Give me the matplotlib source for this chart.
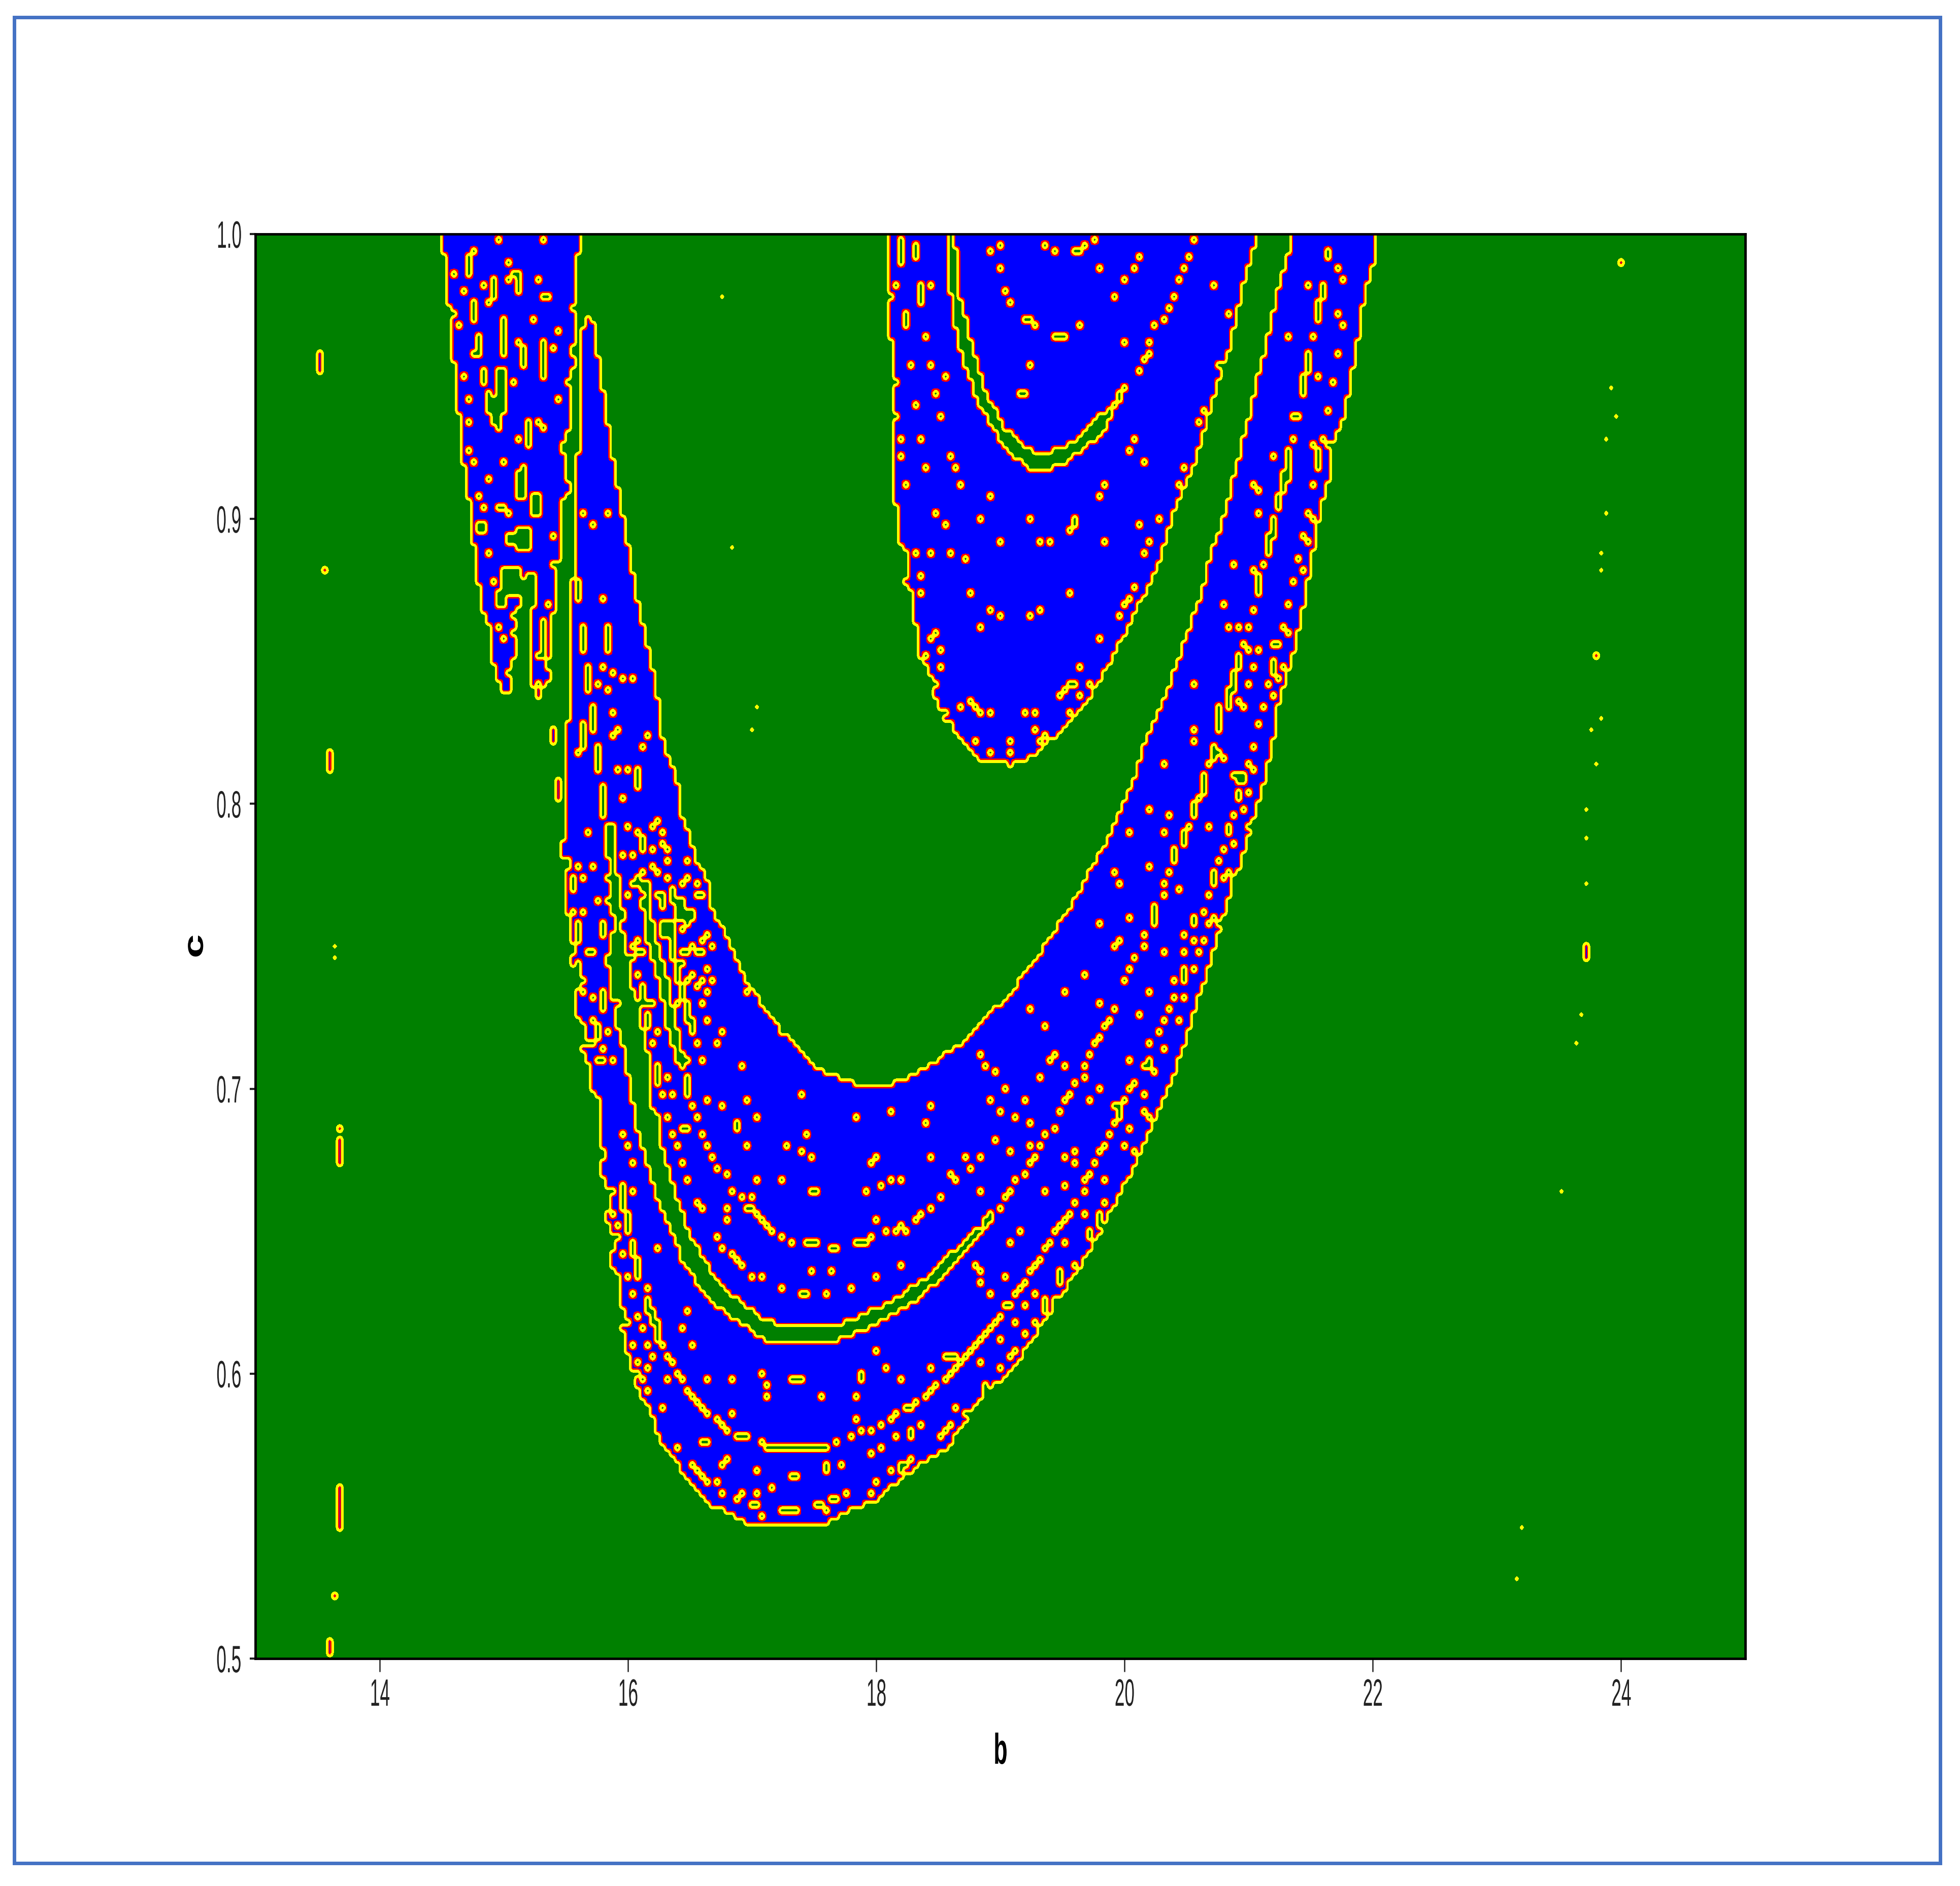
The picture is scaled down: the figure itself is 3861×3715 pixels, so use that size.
import numpy as np
import matplotlib
matplotlib.use("Agg")
import matplotlib.pyplot as plt
import matplotlib.patheffects as pe
from matplotlib.colors import ListedColormap, BoundaryNorm
from matplotlib.path import Path
from matplotlib.patches import Rectangle
from matplotlib.transforms import Affine2D

plt.rcParams['font.family'] = ['Liberation Sans', 'DejaVu Sans']

# parameter grid (b, c)
b_start, b_end, b_step = 13.0, 25.0, 0.04
c_start, c_end, c_step = 0.5, 1.0, 0.002

x_ticks = [14, 16, 18, 20, 22, 24]
y_ticks = [0.5, 0.6, 0.7, 0.8, 0.9, 1.0]

# blue regions, outlines as (b, c)
lobe_left = [(14.477, 1.002), (14.484, .9940), (14.524, .9924), (14.524, .9788), (14.565, .9726), (14.572, .9556),
             (14.606, .9539), (14.612, .9376), (14.646, .9353), (14.653, .9285), (14.639, .9229), (14.687, .9184),
             (14.694, .9105), (14.721, .9037), (14.727, .8924), (14.768, .8901), (14.775, .8794), (14.822, .8754),
             (14.802, .8709), (14.877, .8630), (14.883, .8517), (14.931, .8495), (14.938, .8438), (14.978, .8404),
             (15.032, .8410), (15.046, .8450), (14.998, .8478), (15.080, .8529), (15.087, .8596), (15.026, .8619),
             (15.093, .8636), (15.039, .8664), (15.107, .8709), (15.120, .8788), (15.175, .8822), (15.242, .8834),
             (15.242, .8704), (15.188, .8692), (15.208, .8641), (15.208, .8562), (15.202, .8450), (15.242, .8404),
             (15.249, .8376), (15.290, .8376), (15.297, .8415), (15.364, .8450), (15.324, .8495), (15.364, .8596),
             (15.371, .8664), (15.405, .8720), (15.405, .8845), (15.452, .8867), (15.425, .8901), (15.446, .9082),
             (15.507, .9105), (15.480, .9195), (15.480, .9229), (15.439, .9246), (15.480, .9319), (15.527, .9342),
             (15.520, .9466), (15.486, .9489), (15.554, .9551), (15.520, .9602), (15.568, .9624), (15.568, .9715),
             (15.520, .9743), (15.568, .9777), (15.568, .9929), (15.608, .9940), (15.602, 1.002)]

lobe_upper = [(18.044, 1.002), (18.044, .9634), (18.083, .9621), (18.083, .9296), (18.122, .927), (18.122, .9166),
              (18.109, .9075), (18.16, .9049), (18.16, .8932), (18.225, .8874), (18.2, .8789), (18.264, .8750),
              (18.238, .8698), (18.303, .8607), (18.316, .8530), (18.394, .8478), (18.433, .8387), (18.537, .8296),
              (18.666, .8231), (18.796, .8166), (19.055, .8153), (19.21, .8185), (19.418, .8257), (19.677, .8387),
              (19.807, .849), (19.937, .8595), (20.144, .8776), (20.248, .888), (20.352, .9036), (20.507, .9192),
              (20.61, .9348), (20.714, .9504), (20.818, .9647), (20.896, .9816), (21.025, 1.002)]

band_u = [(15.656, .9720), (15.608, .9669), (15.608, .9240), (15.561, .9235), (15.561, .8800), (15.52, .8788),
          (15.52, .8305), (15.487, .8293), (15.487, .7905), (15.442, .789), (15.442, .7834), (15.514, .7802),
          (15.487, .777), (15.487, .763), (15.533, .7613), (15.533, .7526), (15.56, .751), (15.524, .7486),
          (15.533, .7443), (15.596, .747), (15.614, .7415), (15.65, .7395), (15.569, .736), (15.56, .728),
          (15.641, .7249), (15.641, .72), (15.605, .7154), (15.669, .710), (15.691, .7015), (15.743, .6994),
          (15.743, .6854), (15.782, .6811), (15.769, .6725), (15.821, .6672), (15.821, .6629), (15.808, .6564),
          (15.873, .65), (15.834, .6403), (15.912, .636), (15.899, .6274), (15.963, .6232), (15.925, .6189),
          (15.976, .609), (16.041, .5985), (16.145, .59), (16.249, .579), (16.378, .5716), (16.443, .5663),
          (16.638, .5566), (16.793, .5544), (16.897, .5512), (17.026, .5491), (17.415, .5491), (17.584, .5512),
          (17.752, .5555), (17.96, .5587), (18.167, .5663), (18.349, .5722), (18.53, .577), (18.686, .5867),
          (18.847, .5975), (19.023, .6019), (19.156, .6107), (19.288, .6195), (19.508, .6342), (19.662, .6445),
          (19.905, .665), (20.081, .6797), (20.213, .6944), (20.323, .7047), (20.478, .7238), (20.599, .7414),
          (20.709, .7576), (20.819, .7737), (20.907, .784), (20.995, .7972), (21.072, .809), (21.155, .8257),
          (21.18, .8348), (21.285, .8516), (21.363, .8646), (21.415, .8776), (21.466, .8906), (21.518, .9036),
          (21.609, .918), (21.6, .9244), (21.72, .9374), (21.79, .955), (21.87, .977), (21.97, .995), (21.97, 1.002),
          (21.28, 1.002), (21.27, .9946), (21.18, .9816), (21.13, .9686), (21.05, .9556), (20.97, .94), (20.896, .927),
          (20.818, .914), (20.74, .901), (20.66, .8906), (20.585, .8776), (20.48, .8646), (20.377, .8504),
          (20.248, .8361), (20.118, .8231), (19.993, .806), (19.839, .7913), (19.729, .7825), (19.552, .7678),
          (19.398, .7576), (19.244, .7473), (19.035, .7355), (18.847, .7267), (18.671, .7186), (18.35, .709),
          (18.1, .704), (17.8, .704), (17.49, .709), (17.355, .7162), (17.21, .7217), (17.12, .728), (17.03, .733),
          (16.957, .7375), (16.848, .7462), (16.758, .7557), (16.667, .7628), (16.649, .7652), (16.649, .7707),
          (16.594, .7771), (16.54, .7802), (16.485, .7873), (16.449, .7937), (16.377, .7992), (16.395, .804),
          (16.358, .8103), (16.304, .8174), (16.25, .8253), (16.231, .8348), (16.177, .8466), (16.137, .8551),
          (16.096, .863), (16.055, .8715), (16.015, .8822), (15.974, .8913), (15.933, .902), (15.893, .9116),
          (15.852, .9235), (15.811, .9353), (15.771, .9466), (15.73, .9585), (15.69, .9715)]

# green channels inside the blue regions
arc_upper = [(18.524, 1.002), (18.536, .9881), (18.588, .9699), (18.666, .9556), (18.796, .94), (18.951, .9283),
             (19.159, .9192), (19.288, .9173), (19.47, .9205), (19.781, .931), (19.885, .94), (19.963, .9465),
             (20.0, .9504), (19.937, .9465), (19.859, .9413), (19.52, .927), (19.314, .9238), (19.185, .925),
             (18.977, .9335), (18.822, .9478), (18.692, .9686), (18.614, .9816), (18.594, 1.002)]

arc_main = [(15.94, .7569), (15.85, .7569), (15.841, .7494), (15.796, .747), (15.832, .7431), (15.841, .7336),
            (15.896, .732), (15.886, .724), (15.923, .7225), (15.94, .7154), (15.99, .7037), (16.041, .6886),
            (16.093, .6822), (16.132, .6747), (16.171, .6693), (16.249, .6597), (16.352, .65), (16.391, .6436),
            (16.508, .636), (16.612, .6296), (16.767, .6232), (16.923, .6189), (17.078, .6146), (17.234, .6130),
            (17.519, .6130), (17.675, .6146), (17.908, .6189), (18.115, .6242), (18.271, .6274), (18.401, .6328),
            (18.53, .6382), (18.66, .6446), (18.79, .65), (18.906, .6575), (18.712, .6511), (18.53, .6436),
            (18.349, .636), (18.167, .6307), (18.038, .6274), (17.83, .6226), (17.649, .6199), (17.467, .6189),
            (17.364, .6189), (17.208, .6199), (17.078, .6215), (16.975, .6253), (16.819, .6296), (16.689, .635),
            (16.56, .6446), (16.482, .651), (16.404, .6597), (16.313, .6725), (16.249, .6811), (16.21, .694),
            (16.158, .6961), (16.158, .7101), (16.122, .7162), (16.068, .7312), (15.995, .7391), (15.968, .751)]

arc_neck = [(15.841, .783), (15.877, .783), (15.877, .7771), (15.923, .7739), (15.896, .7707), (15.932, .766),
            (15.968, .7628), (15.923, .7609), (15.932, .7573), (15.877, .7577), (15.877, .762), (15.805, .7676),
            (15.841, .7715), (15.796, .7755), (15.841, .7779)]

arc_hook = [(15.995, .7739), (16.068, .7767), (16.168, .7723), (16.168, .7628), (16.204, .7549), (16.259, .747),
            (16.304, .7383), (16.34, .7288), (16.395, .7186), (16.449, .71), (16.377, .71), (16.304, .7201),
            (16.277, .7288), (16.231, .7375), (16.177, .7462), (16.122, .7549), (16.104, .7628), (16.077, .7668),
            (16.113, .77), (16.068, .7739), (16.032, .7727)]

hole_left = [(14.931, .9545), (14.998, .9545), (15.019, .9489), (15.012, .9387), (14.978, .9370), (14.971, .9308),
             (14.917, .9314), (14.877, .9370), (14.843, .9387), (14.843, .9460), (14.904, .9438), (14.924, .9477)]

# elongated holes as (b0, b1, c0, c1)
gap_boxes = [(14.70, 14.70, .9856, .9918), (15.10, 15.10, .9805, .9867), (14.905, 14.905, .9777, .9844),
             (14.745, 14.745, .9709, .9765), (14.98, 14.98, .9647, .9714), (14.98, 14.98, .9579, .963),
             (15.14, 15.14, .954, .96), (15.305, 15.305, .951, .963), (14.82, 14.82, .9477, .9534),
             (15.18, 15.18, .9274, .9347), (15.30, 15.34, .979, .979), (14.79, 14.79, .958, .964),
             (14.74, 14.79, .958, .958), (15.10, 15.12, .908, .916), (15.20, 15.24, .903, .909),
             (14.80, 14.84, .8965, .899), (15.10, 15.18, .8905, .8975), (15.04, 15.10, .893, .8955),
             (14.96, 15.0, .872, .876), (15.0, 15.08, .876, .884), (15.28, 15.30, .853, .8645),
             (15.58, 15.58, .874, .879), (15.62, 15.62, .8551, .8636), (15.825, 15.825, .8551, .8636),
             (15.66, 15.66, .8416, .8483), (15.70, 15.70, .83, .8353),
             (19.38, 19.46, .9655, .9655), (19.38, 19.41, .995, .995), (19.54, 19.58, .995, .995),
             (18.174, 18.174, .9907, .998), (18.298, 18.298, .9927, .997), (18.334, 18.334, .977, .9816),
             (18.215, 18.215, .9693, .9725), (21.58, 21.60, .9915, .9935), (21.53, 21.53, .978, .982),
             (21.492, 21.492, .9706, .9758), (21.409, 21.409, .9523, .9582), (21.37, 21.37, .9439, .9498),
             (21.316, 21.36, .9374, .9374), (21.248, 21.248, .9144, .9244), (21.492, 21.492, .918, .924),
             (21.212, 21.212, .9108, .9166), (21.173, 21.173, .9043, .9095), (21.129, 21.129, .8958, .9017),
             (21.093, 21.093, .889, .895), (21.01, 21.01, .8744, .8802), (20.849, 20.849, .8484, .8536),
             (21.129, 21.129, .8475, .852), (20.81, 20.81, .8412, .8471), (20.769, 20.769, .8361, .8419),
             (20.727, 20.727, .8296, .8354), (20.65, 20.65, .8175, .822), (20.572, 20.572, .8063, .812),
             (21.16, 21.20, .8572, .8572), (20.88, 20.92, .809, .811),
             (20.57, 20.57, .806, .812), (20.489, 20.489, .797, .802), (20.411, 20.411, .787, .792),
             (20.367, 20.367, .782, .786), (20.209, 20.209, .762, .766), (19.931, 19.931, .692, .696),
             (20.654, 20.654, .773, .777), (20.10, 20.14, .7095, .7095), (19.735, 19.735, .655, .659),
             (19.449, 19.449, .634, .638), (19.332, 19.332, .625, .629), (20.78, 20.80, .791, .793),
             (15.623, 15.623, .8233, .83), (15.696, 15.696, .8265, .834), (15.741, 15.741, .813, .8209),
             (16.063, 16.063, .8079, .8134), (15.781, 15.781, .7984, .8047), (16.101, 16.101, .785, .7897),
             (15.82, 15.86, .7845, .793), (15.542, 15.542, .772, .775), (16.34, 16.34, .768, .772),
             (16.264, 16.264, .765, .769), (16.38, 16.42, .7625, .767), (16.45, 16.51, .7625, .7635),
             (16.26, 16.35, .7565, .7595), (15.583, 15.583, .754, .758), (15.781, 15.781, .755, .759),
             (16.34, 16.34, .7478, .7541), (15.66, 15.70, .7494, .7494), (16.05, 16.1, .7494, .7494),
             (16.41, 16.47, .7494, .7494), (16.53, 16.59, .7494, .7494), (15.98, 16.0, .7474, .7474),
             (16.377, 16.377, .7407, .7454), (16.413, 16.413, .734, .738), (15.781, 15.781, .7308, .7356),
             (16.099, 16.099, .732, .7383), (16.14, 16.17, .7312, .7312), (16.458, 16.458, .727, .731),
             (16.141, 16.141, .7233, .7288), (15.741, 15.741, .72, .724), (16.498, 16.498, .7215, .726),
             (15.64, 15.68, .7178, .7178), (15.73, 15.77, .7117, .7117),
             (16.456, 16.456, .6994, .7069), (16.223, 16.223, .7051, .7101), (16.24, 16.26, .6997, .6997),
             (16.4, 16.44, .688, .688), (15.938, 15.938, .6602, .6677), (15.984, 15.984, .6521, .6575),
             (16.02, 16.02, .644, .649), (16.062, 16.062, .637, .642), (16.12, 16.14, .6333, .6333),
             (16.04, 16.06, .6232, .6232), (16.14, 16.14, .6248, .6296), (16.179, 16.179, .62, .625),
             (16.223, 16.223, .615, .62), (17.415, 17.467, .6481, .6481),
             (17.597, 17.65, .6468, .6468), (17.8, 17.87, .6481, .6481), (17.43, 17.49, .6663, .6663),
             (17.375, 17.42, .6314, .6314), (17.30, 17.37, .6015, .6015), (17.09, 17.585, .5762, .577),
             (16.832, 16.87, .5818, .5818), (18.22, 18.26, .5915, .5915), (17.28, 17.32, .5668, .5668),
             (16.98, 17.02, .5568, .5568), (17.2, 17.32, .5552, .5552), (17.5, 17.53, .5568, .5568),
             (17.62, 17.65, .5585, .5585), (18.17, 18.21, .5716, .5716), (18.54, 18.58, .6092, .6092)]

# single holes, upper left lobe
dots_lobe_left = [(14.74, .9952), (14.94, .9983), (15.30, .9983), (14.585, .9861), (15.025, .9912), (15.06, .987),
                  (15.02, .9836), (14.82, .9818), (15.26, .9836), (14.66, .9803), (14.86, .9769), (14.585, .9735),
                  (15.22, .9709), (14.625, .9678), (15.425, .967), (15.10, .9635), (15.385, .9613), (14.665, .951),
                  (15.065, .9477), (14.70, .9436), (15.425, .9427), (14.70, .9353), (15.10, .9289), (15.30, .9336),
                  (15.26, .9353), (14.71, .924), (14.75, .9212), (14.985, .9204), (15.145, .919), (14.86, .9155),
                  (14.78, .9088), (14.82, .9054), (14.98, .9054), (14.94, .904), (15.02, .9023), (15.38, .8941),
                  (15.385, .8854), (14.865, .8881), (14.90, .88), (15.35, .8721), (14.94, .8625), (14.98, .8591),
                  (15.26, .8523), (15.26, .8427)]

# single holes, upper middle lobe
dots_lobe_upper = [(18.977, .997), (18.894, .9936), (18.938, .9884), (19.335, .997), (19.651, .997), (19.703, .9985),
                   (19.773, .9884), (20.053, .992), (20.014, .9884), (19.937, .9836), (19.854, .9784), (19.016, .9803),
                   (19.055, .9768), (19.138, .9715), (19.185, .9696), (19.224, .9686), (19.612, .9686), (19.21, .9537),
                   (19.133, .9452), (19.172, .9437), (18.135, .9819), (18.415, .9819), (18.083, .978), (18.376, .9654),
                   (18.096, .9634), (18.256, .9537), (18.415, .9537), (18.537, .9504), (18.135, .9487), (18.454, .9452),
                   (18.298, .9403), (18.135, .937), (18.498, .937), (18.174, .9287), (18.334, .9287), (18.57, .9238),
                   (18.174, .9221), (18.376, .9187), (18.614, .9187), (18.656, .9138), (18.215, .9121), (18.894, .9088),
                   (18.454, .9039), (18.537, .8988), (18.817, .9005), (19.21, .9005), (18.977, .8939), (19.294, .8922),
                   (19.374, .8939), (19.812, .8939), (19.734, .9088), (19.812, .9138), (20.053, .8988), (19.496, .8971),
                   (19.535, .8988), (19.574, .9005), (20.248, .9005), (20.131, .9205), (20.411, .9187), (20.372, .9138),
                   (19.975, .9255), (20.014, .9288), (19.97, .9621), (20.689, .9554), (20.65, .9819), (20.572, .9387),
                   (20.533, .9338), (20.805, .9735), (18.298, .8889), (18.415, .8889), (18.575, .8889), (18.692, .8874),
                   (18.334, .8806), (18.334, .8756), (18.736, .8756), (19.496, .8756), (18.894, .8689), (18.977, .8672),
                   (19.21, .8672), (19.294, .8689), (18.814, .8640), (20.17, .8922), (20.131, .8889), (20.014, .8773),
                   (19.975, .874), (19.937, .8705), (19.898, .8672), (19.773, .8591), (18.415, .8591), (18.454, .8607),
                   (18.492, .8558), (18.376, .8526), (18.492, .849), (19.612, .849), (18.454, .8426), (19.69, .8441),
                   (19.418, .8392), (19.457, .8409), (19.496, .8426), (19.574, .8426), (19.612, .8392), (18.736, .8376),
                   (18.775, .8358), (18.817, .8341), (18.894, .8324), (18.537, .8341), (18.656, .8358), (18.575, .8292),
                   (19.174, .8324), (19.255, .8341), (19.496, .8324), (19.255, .8275), (18.775, .8241), (19.055, .8241),
                   (19.294, .8241), (19.335, .8257), (18.894, .8192), (19.055, .8192),
                   (20.053, .953), (20.092, .9563), (20.136, .9595), (20.17, .9628), (20.209, .968), (20.255, .9712),
                   (20.294, .9745), (20.333, .9793), (20.372, .9842), (20.411, .9875), (20.45, .9927), (20.491, .9975)]

# single holes, right arm of the U band
dots_right_arm = [(21.415, .9819), (21.687, .9836), (21.648, .9884), (21.648, .9735), (21.687, .968), (21.246, .9654),
                  (21.448, .9643), (21.648, .9582), (21.487, .9504), (21.609, .9485), (21.57, .9394), (21.29, .9296),
                  (21.53, .9296), (21.448, .9268), (21.565, .927), (21.129, .9238), (21.448, .9121), (20.974, .9121),
                  (21.015, .9104), (21.012, .9023), (21.409, .9039), (21.448, .9005), (21.368, .8956), (21.409, .8922),
                  (20.808, .8857), (20.968, .8839), (21.05, .8848), (21.329, .8874), (21.368, .8839), (21.29, .8796),
                  (20.766, .8705), (20.968, .8698), (21.251, .8714), (20.769, .8623), (20.849, .864), (20.93, .8631),
                  (21.212, .864), (21.254, .8607), (20.891, .8569), (20.93, .8543), (21.012, .8558), (20.974, .849),
                  (21.212, .849), (21.173, .8458), (20.528, .8439), (20.93, .8426), (21.09, .8426), (21.129, .8392),
                  (20.849, .8376), (20.891, .8358), (21.051, .8358), (21.012, .8292), (20.528, .8275), (20.688, .8267),
                  (20.494, .8227), (20.968, .8224), (20.727, .8194), (20.766, .8176), (20.93, .8159), (20.611, .8153),
                  (20.974, .8142), (20.256, .8159), (20.81, .8107), (20.849, .8049), (20.93, .8055)]

# single holes, lower right of the U band
dots_lower_right = [(20.61, .8148), (20.533, .8034), (20.451, .7935), (20.328, .7784), (20.29, .7734), (20.253, .7689),
                    (20.173, .7602), (20.125, .7556), (20.092, .7517), (20.048, .747), (20.008, .7436), (19.971, .7392),
                    (19.878, .7304), (19.839, .7267), (19.806, .7235), (19.766, .7205), (19.728, .7172), (19.689, .7138),
                    (19.651, .7106), (19.614, .707), (19.574, .7039), (19.53, .7006), (19.486, .6973), (19.447, .6937),
                    (19.38, .6885), (19.332, .6856), (19.288, .682), (19.244, .679), (19.2, .6761), (19.138, .6724),
                    (19.09, .6694), (19.046, .6665), (19.002, .6636), (18.957, .6606), (18.891, .6577), (18.847, .6555),
                    (18.803, .6533), (18.759, .6511), (18.715, .6481), (20.048, .7035), (20.004, .7017), (19.971, .6981),
                    (19.889, .6897), (19.85, .6863), (19.812, .683), (19.773, .6797), (19.733, .6765), (19.689, .6731),
                    (19.651, .6697), (19.614, .6665), (19.57, .6628), (19.53, .6594), (19.49, .6565), (19.447, .6547),
                    (19.409, .6518), (19.372, .6489), (19.328, .646), (19.288, .643), (19.248, .6401), (19.211, .6379),
                    (19.167, .6342), (19.123, .6327), (19.09, .6298), (19.046, .6276), (19.001, .6261), (18.957, .6232),
                    (18.924, .621), (18.88, .6188), (18.836, .6166), (18.792, .6151), (18.748, .6129), (18.704, .6114),
                    (20.132, .7991), (20.295, .7975), (19.975, .791), (20.253, .7925), (20.61, .7943), (20.808, .8107),
                    (20.852, .8043), (20.892, .7991), (20.808, .7975), (20.929, .7943), (20.812, .7877), (20.731, .7859),
                    (20.691, .7811), (20.731, .7759), (20.775, .7774), (20.819, .7759), (20.372, .7708), (20.61, .7693),
                    (20.57, .7643), (19.889, .7778), (19.931, .7744), (20.132, .7793), (19.975, .7627), (19.773, .7593),
                    (20.489, .7612), (20.528, .7598), (20.61, .7598), (20.654, .7612), (20.693, .7598), (20.449, .7561),
                    (20.489, .7543), (20.57, .7543), (19.894, .7546), (19.854, .7509), (20.251, .7495), (20.449, .7495),
                    (20.533, .7495), (20.411, .7443), (20.489, .7443), (20.449, .7426), (20.367, .7396), (20.449, .7396),
                    (19.651, .7411), (19.493, .7363), (20.136, .7363), (20.33, .7345), (20.411, .7345), (19.773, .7329),
                    (20.297, .7304), (20.052, .7279), (20.253, .7264), (20.372, .726), (19.215, .7297), (19.332, .7245),
                    (20.213, .7223), (20.169, .7179), (20.253, .7161), (18.814, .7147), (19.413, .7147), (19.372, .7113),
                    (20.011, .713), (20.132, .713), (18.852, .7095), (18.935, .7079), (19.493, .7095), (19.294, .7064),
                    (20.176, .7079), (19.017, .7014), (19.773, .7014), (20.092, .6995), (18.896, .6979), (19.173, .6979),
                    (19.656, .6979), (19.971, .6979), (19.887, .6962), (18.975, .6947), (19.067, .6918), (20.096, .6947),
                    (20.136, .6932), (19.215, .6897), (19.975, .6878), (18.935, .6849), (19.971, .6829), (20.015, .6812),
                    (19.215, .6829), (19.535, .6812), (19.052, .6794), (19.493, .6778), (19.535, .6761), (18.697, .6778),
                    (18.737, .6746), (18.814, .6778), (19.812, .6712), (18.814, .6665), (19.332, .6665), (19.493, .668),
                    (19.81, .6628), (19.651, .658), (19.691, .653), (19.656, .6496), (19.134, .653), (19.052, .6478),
                    (19.493, .6478), (19.535, .6401), (18.77, .6401), (18.814, .6383), (18.814, .6346), (19.012, .6364),
                    (19.255, .6315), (18.896, .6298), (19.413, .6295), (19.173, .6264), (19.09, .6213), (19.255, .6213),
                    (19.173, .6163), (18.975, .6148), (19.09, .6114), (19.057, .608), (18.814, .6063), (18.975, .6048),
                    (18.852, .5982), (18.693, .5879)]

# single holes, bottom of the U band
dots_bottom = [(16.495, .6961), (16.539, .6918), (16.58, .687), (16.625, .6827), (16.664, .6784), (16.702, .6752),
               (16.754, .6715), (16.819, .6672), (16.897, .6634), (16.949, .6613), (16.975, .66), (17.0, .6586),
               (17.026, .6575), (17.052, .6564), (17.104, .6543), (17.143, .6527), (17.195, .6513),
               (17.273, .6494), (17.934, .65), (18.038, .6516), (18.115, .6527), (18.18, .6545), (18.271, .657),
               (18.31, .6586), (16.262, .6135), (16.3, .6097), (16.339, .6065), (16.383, .6031), (16.422, .5998),
               (16.461, .5974), (16.503, .5947), (16.542, .5931), (16.58, .591), (16.625, .5888), (16.676, .5869),
               (16.741, .585), (16.78, .5834), (16.936, .5807), (17.04, .5786), (17.649, .5786), (17.752, .5807),
               (17.843, .5823), (17.921, .5834), (17.999, .585), (18.077, .5867), (18.141, .5888), (18.297, .5931),
               (18.349, .5952), (18.401, .5968), (18.452, .5985), (18.504, .6006), (18.556, .6022), (18.595, .6044),
               (18.647, .607), (18.686, .6087), (17.376, .6997), (16.941, .698), (16.619, .698), (16.741, .6964),
               (17.019, .6929), (16.3, .6929), (17.817, .6929), (18.095, .6945), (18.414, .6964), (18.375, .6912),
               (16.858, .6912), (16.858, .6878), (17.415, .6862), (17.255, .6829), (16.941, .6829), (16.378, .6813),
               (17.376, .6797), (17.459, .6781), (17.908, .6768), (17.947, .6781), (18.414, .6781), (18.694, .6781),
               (17.021, .6695), (17.221, .6712), (18.18, .6712), (18.097, .6695), (18.017, .668), (17.895, .6663),
               (18.574, .6731), (18.616, .6695), (18.497, .6647), (18.414, .6613), (16.983, .6647), (17.978, .6564),
               (18.219, .6516), (16.542, .6631), (16.58, .6596), (16.78, .6613), (16.78, .6564), (16.702, .6514),
               (16.741, .6462), (16.819, .6449), (16.858, .6435), (16.897, .6414), (18.177, .6414), (17.459, .6382),
               (17.618, .6382), (16.982, .6364), (17.057, .6364), (17.978, .6364), (17.216, .633), (17.576, .6314),
               (17.778, .633), (16.339, .6997), (16.339, .686), (16.417, .6763), (16.461, .6712), (16.3, .7063),
               (16.0, .6763), (15.984, .6813), (15.938, .686), (16.02, .6664), (15.86, .6672), (15.86, .6578),
               (15.904, .6548), (15.904, .65), (15.938, .6449), (16.223, .6468), (15.984, .6364), (16.02, .6298),
               (16.461, .6248), (16.1, .618), (15.976, .6199), (16.422, .618), (16.02, .6132), (16.14, .6132),
               (16.262, .6132), (16.5, .6132), (16.179, .6081), (16.062, .6065), (16.14, .6049), (16.062, .6031),
               (16.101, .6014), (16.3, .6014), (16.14, .5966), (16.262, .5899), (16.619, .6), (16.819, .6),
               (17.058, .6031), (17.099, .5981), (17.099, .5949), (17.537, .5949), (17.817, .5949), (17.856, .6031),
               (17.856, .6), (18.058, .6049), (18.175, .6), (17.978, .6099), (18.419, .6049), (16.819, .5883),
               (17.817, .5867), (16.378, .5767), (16.58, .5799), (16.619, .5783), (16.78, .5732), (16.741, .57),
               (17.021, .5684), (17.576, .5716), (17.576, .5684), (17.7, .57), (16.495, .57), (16.534, .5684),
               (16.578, .5668), (16.619, .5652), (16.702, .5652), (16.741, .5616), (16.897, .5616), (17.138, .5636),
               (17.021, .5601), (16.863, .5584), (17.058, .5534), (17.571, .5552), (17.739, .5601), (17.939, .5751),
               (18.019, .5767), (18.136, .58), (18.258, .58), (18.258, .5834), (18.31, .585), (18.491, .5818),
               (18.53, .5834), (18.57, .585), (18.613, .5899), (18.694, .5883), (18.097, .5684), (18.175, .5684),
               (18.258, .5732), (17.978, .565), (17.939, .5616)]

# single holes, left arm of the U band
dots_left_arm = [(15.62, .902), (15.70, .899), (15.825, .902), (15.785, .8723), (15.78, .8491), (15.86, .8474),
                 (15.94, .8457), (16.02, .845), (15.74, .8427), (15.82, .841), (15.865, .834), (15.859, .8336),
                 (15.896, .8273), (15.859, .8257), (16.141, .8261), (16.1, .8224), (15.623, .821), (15.578, .8194),
                 (15.901, .8142), (15.983, .8127), (15.781, .8077), (15.941, .8041), (15.983, .7942), (15.665, .7926),
                 (16.177, .7942), (16.217, .796), (16.262, .7926), (16.059, .7909), (15.941, .7843), (16.023, .7843),
                 (16.181, .786), (16.262, .7877), (16.304, .786), (15.496, .7822), (16.462, .7826), (16.3, .781),
                 (15.582, .7794), (15.701, .7794), (16.181, .7794), (16.222, .7776), (16.101, .7776), (15.623, .7759),
                 (16.3, .7759), (16.422, .7743), (16.462, .7759), (16.54, .7743), (15.983, .7707), (16.222, .7707),
                 (15.741, .7677), (16.54, .7692), (16.58, .7707), (15.538, .7643), (15.623, .7643), (16.413, .7569),
                 (16.458, .7589), (16.504, .7609), (15.578, .7597), (16.023, .7528), (16.064, .7545), (16.504, .7528),
                 (16.576, .7545), (16.621, .7561), (16.661, .751), (16.422, .7462), (15.863, .7454), (16.059, .7427),
                 (16.5, .7427), (16.621, .7443), (16.576, .7403), (16.54, .7375), (16.658, .7395), (16.458, .7395),
                 (16.621, .736), (15.618, .736), (15.701, .7344), (16.377, .7312), (16.58, .7312), (16.621, .7265),
                 (15.701, .7265), (15.819, .7229), (16.222, .7229), (16.739, .7229), (15.781, .7162), (16.54, .7178),
                 (16.698, .7178), (16.458, .713), (16.58, .713), (15.859, .7117), (16.177, .7178), (16.222, .7107),
                 (16.894, .7107), (16.948, .736)]

# blue specks in the green area, (b, c0, c1)
specks_full = [(13.524, .9513, .9583), (13.564, .8811, .8811), (13.604, .8123, .8189), (13.675, .686, .686),
               (13.675, .6741, .681), (13.675, .5469, .5592), (13.634, .5215, .5215), (13.604, .5015, .5055),
               (15.382, .8222, .8261), (15.424, .8024, .8071), (23.705, .7454, .7494), (23.815, .8513, .8513),
               (23.985, .9908, .9908)]

# specks that stay yellow (too small to reach blue)
specks_faint = [(13.645, .7509), (13.645, .7465), (23.22, .5456), (23.15, .5272), (23.51, .664), (23.63, .7167),
                (23.67, .7259), (23.715, .7715), (23.715, .7882), (23.715, .7982), (23.795, .8132), (23.755, .8263),
                (23.835, .8298), (23.835, .8816), (23.835, .8886), (23.885, .9013), (23.885, .9276), (23.945, .9364),
                (23.915, .9469), (16.765, .9785), (16.85, .8899), (17.05, .8333), (17.02, .8268)]

b_vals = np.arange(b_start, b_end + b_step / 2, b_step)
c_vals = np.arange(c_start, c_end + c_step / 2, c_step)
bb, cc = np.meshgrid(b_vals, c_vals)
grid_pts = np.column_stack([bb.ravel(), cc.ravel()])


# the region readings were taken on a slightly off scale, this puts them right
def true_b(b):
    return 13 + (2 + 246 * (b - 13)) / 244.6


def true_c(c):
    return 1 - (2 + 5646 * (1 - c)) / 5612


def inside(outline):
    pts = [(true_b(b), true_c(c)) for b, c in outline]
    return Path(pts + [pts[0]]).contains_points(grid_pts).reshape(bb.shape)


def col(b):
    return int(round((b - b_start) / b_step))


def row(c):
    return int(round((c - c_start) / c_step))


z = np.zeros(bb.shape)
for region in [lobe_left, lobe_upper, band_u]:
    z[inside(region)] = 1.0
for channel in [arc_upper, arc_main, arc_neck, arc_hook, hole_left]:
    z[inside(channel)] = 0.0
for b0, b1, c0, c1 in gap_boxes:
    z[row(true_c(c0)):row(true_c(c1)) + 1, col(true_b(b0)):col(true_b(b1)) + 1] = 0.0
for dots in [dots_lobe_left, dots_lobe_upper, dots_right_arm, dots_lower_right, dots_bottom, dots_left_arm]:
    for b, c in dots:
        z[row(true_c(c)), col(true_b(b))] = 0.0
for b, c0, c1 in specks_full:
    z[row(c0):row(c1) + 1, col(b)] = 1.0
for b, c in specks_faint:
    z[row(c), col(b)] = 0.36


class Squeeze(pe.AbstractPathEffect):
    """narrows the glyphs sideways around their middle, the picture was stretched"""

    def __init__(self, sx):
        super().__init__()
        self.sx = sx

    def draw_path(self, renderer, gc, tpath, affine, rgbFace=None):
        ext = tpath.transformed(affine).get_extents()
        mid = (ext.x0 + ext.x1) / 2
        squeeze = Affine2D().translate(-mid, 0).scale(self.sx, 1).translate(mid, 0)
        renderer.draw_path(gc, tpath, affine + squeeze, rgbFace)


fig_w, fig_h = 3862, 3715
fig = plt.figure(figsize=(fig_w / 100, fig_h / 100), dpi=100, facecolor='white')
ax = fig.add_axes([503 / fig_w, 1 - 3267 / fig_h, (3438 - 503) / fig_w, (3267 - 461) / fig_h])

cmap = ListedColormap(['#008000', '#ffff00', '#ff0000', '#0000ff'])
norm = BoundaryNorm([0, 0.2, 0.7, 0.93, 1.0], cmap.N)
ax.imshow(z, origin='lower', aspect='auto', cmap=cmap, norm=norm, interpolation='bilinear',
          interpolation_stage='data',
          extent=[b_start - b_step / 2, b_end + b_step / 2, c_start - c_step / 2, c_end + c_step / 2])
ax.set_xlim(b_start, b_end)
ax.set_ylim(c_start, c_end)

ax.set_xticks(x_ticks)
ax.set_yticks(y_ticks)
ax.set_yticklabels([f'{v:.1f}' for v in y_ticks])
ax.tick_params(axis='x', length=19, width=1.8, labelsize=54, pad=9, color='#222222', labelcolor='#222222')
ax.tick_params(axis='y', length=8, width=3, labelsize=54, pad=-8, color='#222222', labelcolor='#222222')
for lab in ax.get_xticklabels() + ax.get_yticklabels():
    lab.set_path_effects([Squeeze(0.47)])
for side in ax.spines.values():
    side.set_linewidth(3.5)

ax.set_xlabel('b', fontsize=61, fontweight='bold', va='center')
ax.set_ylabel('c', fontsize=61, fontweight='bold', va='center')
ax.xaxis.set_label_coords(0.5, -0.066)
ax.yaxis.set_label_coords(-0.040, 0.5)
ax.xaxis.label.set_path_effects([Squeeze(0.53)])
ax.yaxis.label.set_path_effects([Squeeze(0.65)])

fig.add_artist(Rectangle((28 / fig_w, 1 - 3670 / fig_h), (3822 - 28) / fig_w, (3670 - 34) / fig_h,
                         transform=fig.transFigure, fill=False, edgecolor='#4472C4', linewidth=5))

fig.savefig('out.png', dpi=100)
